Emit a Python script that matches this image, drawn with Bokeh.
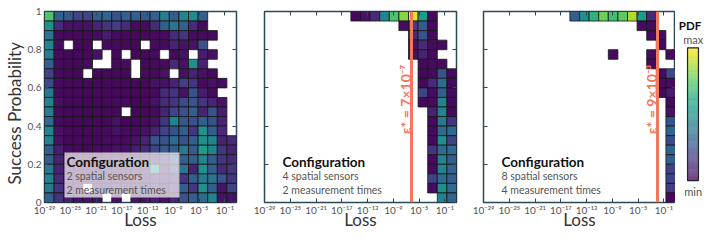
import math
import numpy as np
import pandas as pd
from bokeh.plotting import figure
from bokeh.layouts import row
from bokeh.models import (ColumnDataSource, LinearColorMapper, FixedTicker, LinearAxis,
                          CustomJSTickFormatter)
from bokeh.core.properties import value
from bokeh.palettes import Viridis256
from bokeh.embed import file_html
from bokeh.resources import INLINE

N = None
# ---- binning (log10 of loss on x, success probability on y) ----
LOG_LOSS_MIN, LOG_LOSS_MAX = -29.0, 0.8
N_XBINS, N_YBINS = 20, 20

X_TICKS = [-29, -25, -21, -17, -13, -9, -5, -1]
Y_TICKS = [0, 0.2, 0.4, 0.6, 0.8, 1]
Y_TICK_LABELS = ["0", "0.2", "0.4", "0.6", "0.8", "1"]

# normalised PDF per cell; rows listed from top (p=0.95-1) to bottom (p=0-0.05)
# each row: (first column index, values...) ; None = empty cell
P1_ROWS = [
    (0, [0.72, 0.30, 0.28, 0.20, 0.20, 0.30, 0.32, 0.25, 0.30, 0.30, 0.28, 0.30, 0.42, 0.30, 0.45, 0.48, 0.30]),
    (0, [0.50, 0.12, 0.05, 0.05, 0.05, 0.10, 0.15, 0.18, 0.12, 0.03, 0.03, 0.12, 0.30, 0.38, 0.30, 0.12, 0.03]),
    (0, [0.38, 0.03, 0.02, 0.02, 0.02, 0.03, 0.08, 0.03, 0.02, 0.02, 0.02, 0.03, 0.03, 0.12, 0.15, 0.03, 0.03, 0.03]),
    (0, [0.45, 0.03, N, 0.02, 0.02, N, 0.02, 0.03, 0.02, 0.02, N, 0.03, 0.03, 0.10, 0.05, 0.05, 0.25]),
    (0, [0.42, 0.03, 0.02, 0.02, 0.02, 0.05, N, 0.02, N, 0.02, 0.02, 0.03, N, 0.03, 0.05, N, 0.08, 0.05]),
    (0, [0.30, 0.03, 0.02, 0.02, 0.03, N, N, 0.02, 0.03, N, 0.02, 0.03, 0.03, 0.12, 0.05, 0.50, 0.10]),
    (0, [0.20, 0.03, 0.02, 0.02, N, 0.02, 0.02, 0.02, 0.02, N, 0.03, 0.03, 0.05, N, 0.05, 0.10, 0.05, 0.03]),
    (0, [0.22, 0.03, 0.02, 0.02, 0.02, 0.02, 0.02, 0.02, 0.02, 0.02, 0.02, 0.05, 0.05, 0.10, 0.18, 0.15, 0.03, 0.05, 0.03]),
    (0, [0.40, 0.03, 0.02, 0.02, 0.02, 0.02, 0.02, 0.02, 0.02, 0.02, 0.02, 0.03, 0.12, 0.15, 0.05, 0.25, 0.08, 0.03]),
    (0, [0.45, 0.05, 0.02, 0.02, 0.02, 0.02, 0.02, 0.03, 0.03, 0.02, 0.02, 0.05, 0.12, 0.15, 0.22, 0.25, 0.15, 0.10, 0.05]),
    (0, [0.42, 0.03, 0.02, 0.02, 0.02, 0.02, 0.02, 0.02, N, 0.02, 0.02, 0.03, 0.10, 0.20, 0.25, 0.30, 0.10, 0.25, 0.08]),
    (0, [0.35, 0.03, 0.02, 0.02, 0.02, 0.02, 0.02, 0.05, 0.02, 0.02, 0.03, 0.05, 0.15, 0.45, 0.28, 0.25, 0.30, 0.25, 0.10]),
    (0, [0.45, 0.05, 0.02, 0.02, 0.02, 0.02, 0.03, 0.05, 0.03, 0.03, 0.05, 0.10, 0.20, 0.25, 0.30, 0.15, 0.50, 0.30, 0.12]),
    (0, [0.45, 0.05, 0.02, 0.02, 0.02, 0.02, 0.03, 0.03, 0.03, 0.05, 0.10, 0.25, 0.25, 0.35, 0.25, 0.30, 0.50, 0.45, 0.10, 0.12]),
    (0, [0.30, 0.08, 0.03, 0.02, 0.02, 0.03, 0.03, 0.05, 0.05, 0.08, 0.12, 0.20, 0.28, 0.30, 0.40, 0.28, 0.55, 0.45, 0.15, 0.10]),
    (0, [0.30, 0.10, 0.05, 0.03, 0.03, 0.03, 0.03, 0.05, 0.05, 0.05, 0.08, 0.10, 0.15, 0.25, 0.30, 0.30, 0.45, 0.30, 0.15, 0.12]),
    (0, [0.40, 0.10, 0.05, 0.03, 0.03, 0.03, 0.05, 0.05, 0.05, 0.05, 0.08, 0.55, 0.10, 0.20, 0.38, 0.10, 0.50, 0.30, 0.12, 0.15]),
    (0, [0.45, 0.12, 0.05, 0.05, 0.03, 0.05, 0.05, 0.05, 0.05, 0.08, 0.05, 0.10, 0.08, 0.10, 0.15, 0.30, 0.40, 0.38, 0.25, 0.15]),
    (0, [0.40, 0.15, 0.05, 0.05, N, 0.05, 0.05, 0.08, 0.05, 0.05, 0.08, 0.10, 0.05, 0.12, 0.30, 0.15, 0.50, 0.30, 0.05, 0.20]),
    (0, [0.30, 0.15, 0.08, 0.05, 0.05, 0.05, N, 0.05, N, 0.05, 0.05, 0.08, 0.05, 0.10, 0.25, 0.30, 0.35, 0.45, 0.05, 0.05]),
]

P2_ROWS = [
    (9, [0.02, 0.05, 0.12, 0.45, 0.72, 0.82, 0.97, 0.55, 0.03]),
    (14, [0.03, 0.18, 0.28, 0.03]),
    (15, [0.12, 0.25, 0.03]),
    (15, [0.05, 0.12, 0.03, 0.03]),
    (15, [0.05, 0.10, 0.03]),
    (16, [0.02, 0.03, 0.03]),
    (16, [0.02, 0.03, 0.25, 0.03]),
    (16, [0.02, 0.12, 0.35, 0.03]),
    (16, [0.20, 0.03, 0.30, 0.03]),
    (16, [0.02, 0.03, 0.45, 0.03]),
    (17, [0.10, 0.45, 0.03]),
    (17, [0.03, 0.40, 0.15]),
    (17, [0.03, 0.35, 0.35]),
    (17, [0.03, 0.50, 0.20]),
    (17, [0.15, 0.35, 0.35]),
    (17, [0.03, 0.45, 0.30]),
    (17, [0.03, 0.45, 0.32]),
    (17, [0.20, 0.35, 0.30]),
    (17, [0.03, 0.50, 0.35]),
    (18, [0.45, 0.32]),
]

P3_ROWS = [
    (9, [0.30, 0.50, 0.65, 0.78, 0.70, 0.75, 0.88, 0.55, 0.12]),
    (16, [0.03, 0.03]),
    (17, [0.03, 0.03]),
    (18, [0.03]),
    (13, [0.03, N, N, N, 0.03, N, 0.03]),
    (17, [0.03]),
    (18, [0.03, 0.22]),
    (18, [0.03, 0.03]),
    (18, [0.03, 0.08]),
    (19, [0.03]),
    (19, [0.05]),
    (19, [0.25]),
    (19, [0.32]),
    (19, [0.22]),
    (19, [0.32]),
    (19, [0.30]),
    (19, [0.20]),
    (19, [0.20]),
    (19, [0.18]),
    (19, [0.03]),
]

CONFIGS = [("2 spatial sensors", "2 measurement times"),
           ("4 spatial sensors", "2 measurement times"),
           ("8 spatial sensors", "4 measurement times")]
EPS_STAR = [None, 7e-7, 9e-3]
EPS_LABELS = [None, "ε* = 7×10⁻⁷", "ε* = 9×10⁻³"]

FONT = "Lato"
FRAME_COLOR = "#2a4858"
RED = "#f2775d"
TOP_B, BOTTOM_B = 11, 33

SUP = str.maketrans("-0123456789", "⁻⁰¹²³⁴⁵⁶⁷⁸⁹")
X_TICK_LABELS = {t: "10" + str(t).translate(SUP) for t in X_TICKS}

mapper = LinearColorMapper(palette=Viridis256, low=0, high=1)
edges_x = np.linspace(LOG_LOSS_MIN, LOG_LOSS_MAX, N_XBINS + 1)
edges_y = np.linspace(0, 1, N_YBINS + 1)


def cells(rows):
    recs = []
    for r, (c0, vals) in enumerate(rows):
        yi = N_YBINS - 1 - r
        for k, v in enumerate(vals):
            if v is None:
                continue
            c = c0 + k
            recs.append(dict(left=edges_x[c], right=edges_x[c + 1],
                             bottom=edges_y[yi], top=edges_y[yi + 1], v=v))
    return pd.DataFrame(recs)


def tick_style(ax):
    ax.major_tick_in = 4
    ax.major_tick_out = 0
    ax.minor_tick_line_color = None
    ax.axis_line_color = None
    ax.major_tick_line_color = FRAME_COLOR
    ax.major_tick_line_width = 1


def hide_labels(ax):
    ax.formatter = CustomJSTickFormatter(code="return '';")
    ax.major_label_text_font_size = "1px"
    ax.major_label_standoff = 0


def make_panel(i, rows, left_b, right_b):
    p = figure(frame_width=192, frame_height=191,
               x_range=(LOG_LOSS_MIN, LOG_LOSS_MAX), y_range=(0, 1),
               output_backend="svg", toolbar_location=None,
               min_border_left=left_b, min_border_right=right_b,
               min_border_top=TOP_B, min_border_bottom=BOTTOM_B)
    p.grid.visible = False
    p.outline_line_color = FRAME_COLOR
    p.outline_line_width = 1.5
    p.background_fill_color = "white"
    p.border_fill_color = "white"

    src = ColumnDataSource(cells(rows))
    p.quad(left="left", right="right", bottom="bottom", top="top", source=src,
           fill_color={"field": "v", "transform": mapper},
           line_color="#151515", line_width=0.8)

    # bottom axis
    xa = p.xaxis[0]
    xa.ticker = FixedTicker(ticks=X_TICKS)
    xa.major_label_overrides = X_TICK_LABELS
    xa.axis_label = "Loss"
    xa.axis_label_text_font = FONT
    xa.axis_label_text_font_size = "17px"
    xa.axis_label_text_font_style = "normal"
    xa.axis_label_text_color = "#333333"
    xa.axis_label_standoff = -10
    xa.major_label_text_font = FONT
    xa.major_label_text_font_size = "10px"
    xa.major_label_text_color = "#555555"
    xa.major_label_standoff = 1
    # left axis
    ya = p.yaxis[0]
    ya.ticker = FixedTicker(ticks=Y_TICKS)
    if i == 0:
        ya.major_label_overrides = dict(zip(Y_TICKS, Y_TICK_LABELS))
        ya.axis_label = "Success Probability\u00a0\u00a0\u00a0"
        ya.axis_label_text_font = FONT
        ya.axis_label_text_font_size = "17px"
        ya.axis_label_text_font_style = "normal"
        ya.axis_label_text_color = "#333333"
        ya.axis_label_standoff = 0
        ya.major_label_text_font = FONT
        ya.major_label_text_font_size = "10px"
        ya.major_label_text_color = "#555555"
        ya.major_label_standoff = 3
    else:
        hide_labels(ya)
    tick_style(xa)
    tick_style(ya)

    # mirrored ticks on top and right
    top = LinearAxis(ticker=FixedTicker(ticks=X_TICKS))
    right = LinearAxis(ticker=FixedTicker(ticks=Y_TICKS))
    for ax in (top, right):
        hide_labels(ax)
        tick_style(ax)
    p.add_layout(top, "above")
    p.add_layout(right, "right")

    # configuration annotation (translucent box only in first panel)
    tx = -25.6 if i == 0 else -26.2
    if i == 0:
        p.quad(left=[-25.9], right=[-8.05], bottom=[0.026], top=[0.262],
               fill_color="white", fill_alpha=0.7, line_color=None)
    p.text(x=[tx], y=[0.21], text=["Configuration"], text_align="left",
           text_baseline="middle", text_font=value(FONT), text_font_size="13.5px",
           text_font_style="bold", text_color="#111111")
    p.text(x=[tx, tx], y=[0.14, 0.068], text=list(CONFIGS[i]), text_align="left",
           text_baseline="middle", text_font=value(FONT), text_font_size="10.5px",
           text_color="#555555")

    # threshold line
    if EPS_STAR[i] is not None:
        x0 = math.log10(EPS_STAR[i])
        p.vspan(x=[x0], line_color=RED, line_width=3)
        p.text(x=[x0], y=[0.54], text=[EPS_LABELS[i]], angle=math.pi / 2,
               x_offset=-6, text_align="center", text_baseline="alphabetic",
               text_font=value(FONT), text_font_size="14px", text_font_style="bold",
               text_color=RED)
    return p


p1 = make_panel(0, P1_ROWS, 37, 14)
p2 = make_panel(1, P2_ROWS, 14, 13)
p3 = make_panel(2, P3_ROWS, 14, 0)

# colour bar panel
cb = figure(frame_width=28, frame_height=191, x_range=(0, 1), y_range=(0, 1),
            output_backend="svg", toolbar_location=None,
            x_axis_location=None, y_axis_location=None,
            min_border_left=0, min_border_right=0, min_border_top=TOP_B, min_border_bottom=BOTTOM_B)
cb.grid.visible = False
cb.outline_line_color = None
cb.border_fill_color = "white"
bar_l, bar_r, bar_b, bar_t = 0.43, 0.82, 0.115, 0.81
levels = np.linspace(0, 1, len(Viridis256) + 1)
ys = bar_b + (bar_t - bar_b) * levels
cb.quad(left=bar_l, right=bar_r, bottom=ys[:-1], top=ys[1:], fill_color=list(Viridis256),
        line_color=None)
cb.quad(left=[bar_l], right=[bar_r], bottom=[bar_b], top=[bar_t], fill_color=None,
        line_color="#222222", line_width=1.2)
cb.text(x=[0.52], y=[0.927], text=["PDF"], text_align="center", text_baseline="middle",
        text_font=value(FONT), text_font_size="11.5px", text_font_style="bold", text_color="#111111")
cb.text(x=[0.63, 0.63], y=[0.855, 0.058], text=["max", "min"], text_align="center",
        text_baseline="middle", text_font=value(FONT), text_font_size="11px", text_color="#555555")

layout = row(p1, p2, p3, cb)
open("out.html", "w").write(file_html(layout, INLINE))
